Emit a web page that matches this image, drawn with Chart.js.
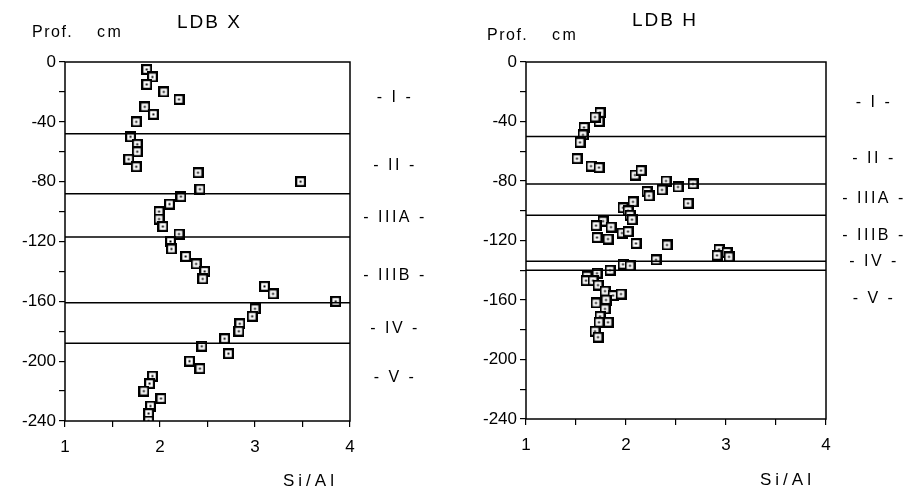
<!DOCTYPE html>
<html lang="fr">
<head>
<meta charset="UTF-8">
<title>LDB X / LDB H - Si/Al</title>
<script src="https://cdn.jsdelivr.net/npm/chart.js"></script>
<style>
  body { margin: 0; background: #fff; width: 903px; height: 487px; overflow: hidden; position: relative;
         font-family: "Liberation Sans", Arial, sans-serif; color: #000; }
  .box { position: absolute; top: 0; height: 487px; }
  .txt { position: absolute; white-space: pre; line-height: 1; }
</style>
</head>
<body>
<div class="box" style="left:0;width:450px"><canvas id="ldbX"></canvas></div>
<div class="box" style="left:450px;width:453px"><canvas id="ldbH"></canvas></div>

<div class="txt" style="left:32px;top:24px;font-size:16px;letter-spacing:1.5px">Prof.</div>
<div class="txt" style="left:97px;top:24px;font-size:16px;letter-spacing:2.5px">cm</div>
<div class="txt" style="left:177px;top:12px;font-size:19px;letter-spacing:2px">LDB X</div>
<div class="txt" style="left:283px;top:472px;font-size:17px;letter-spacing:4px">Si/Al</div>

<div class="txt" style="left:487px;top:27px;font-size:16px;letter-spacing:1.5px">Prof.</div>
<div class="txt" style="left:552px;top:27px;font-size:16px;letter-spacing:2.5px">cm</div>
<div class="txt" style="left:632px;top:10px;font-size:19px;letter-spacing:2px">LDB H</div>
<div class="txt" style="left:760px;top:471px;font-size:17px;letter-spacing:4px">Si/Al</div>

<script>
// LDB X : rapport Si/Al selon la profondeur (cm)
const ldbXSiAl = [1.86, 1.92, 1.86, 2.04, 2.20, 1.84, 1.93, 1.75, 1.69, 1.76, 1.76, 1.67, 1.75, 2.40, 3.48, 2.42,
                  2.22, 2.10, 1.99, 1.99, 2.03, 2.20, 2.11, 2.12, 2.27, 2.38, 2.47, 2.45, 3.10, 3.19, 3.85, 3.00,
                  2.97, 2.84, 2.83, 2.68, 2.44, 2.72, 2.31, 2.42, 1.92, 1.89, 1.83, 2.01, 1.90, 1.88, 1.88];
const ldbXProf = [-5, -10, -15, -20, -25, -30, -35, -40, -50, -55, -60, -65, -70, -74, -80, -85,
                  -90, -95, -100, -105, -110, -115, -120, -125, -130, -135, -140, -145, -150, -155, -160, -165,
                  -170, -175, -180, -185, -190, -195, -200, -205, -210, -215, -220, -225, -230, -235, -240];
const ldbXLimites = [-48, -88, -117, -161, -188];
const ldbXHorizons = ['- I -', '- II -', '- IIIA -', '- IIIB -', '- IV -', '- V -'];
const ldbXHorizonProf = [-24, -69, -104, -143, -178, -211];

// LDB H
const ldbHSiAl = [1.74, 1.73, 1.69, 1.58, 1.57, 1.54, 1.51, 1.65, 1.73, 2.09, 2.15, 2.40, 2.36, 2.52, 2.67, 2.21,
                  2.23, 2.62, 2.07, 1.97, 2.02, 2.04, 2.06, 1.77, 1.70, 1.85, 1.96, 2.02, 1.71, 1.82, 2.10, 2.41,
                  2.93, 3.01, 3.03, 2.91, 2.30, 1.97, 2.04, 1.84, 1.71, 1.61, 1.60, 1.67, 1.72, 1.79, 1.87, 1.95,
                  1.70, 1.80, 1.79, 1.74, 1.82, 1.73, 1.69, 1.72];
const ldbHProf = [-34, -40, -37, -44, -49, -54, -65, -70, -71, -76, -73, -80, -86, -84, -82, -87,
                  -90, -95, -94, -98, -100, -103, -106, -107, -110, -111, -115, -114, -118, -119, -122, -123,
                  -126, -128, -131, -130, -133, -136, -137, -140, -142, -144, -147, -147, -150, -154, -157, -156,
                  -162, -160, -166, -171, -175, -175, -181, -185];
const ldbHLimites = [-50, -82, -103, -134, -140];
const ldbHHorizons = ['- I -', '- II -', '- IIIA -', '- IIIB -', '- IV -', '- V -'];
const ldbHHorizonProf = [-27, -65, -92, -117, -134, -159];

const yTicks = [0, -40, -80, -120, -160, -200, -240];
const xTicks = [1, 2, 3, 4];

// petit carre avec un point au centre
function boxMark() {
  const c = document.createElement('canvas');
  c.width = 11; c.height = 11;
  const g = c.getContext('2d');
  g.fillStyle = '#fff'; g.fillRect(0, 0, 11, 11);
  g.strokeStyle = '#000'; g.lineWidth = 2.2; g.strokeRect(1.1, 1.1, 8.8, 8.8);
  g.fillStyle = '#000'; g.fillRect(4.5, 4.5, 2, 2);
  return c;
}
const mark = boxMark();

// limites d'horizons, cadre et noms des horizons
const horizonsPlugin = {
  id: 'horizons',
  afterDatasetsDraw(chart, args, opts) {
    const { ctx, chartArea: a, scales: { y } } = chart;
    ctx.save();
    ctx.strokeStyle = '#000';
    ctx.lineWidth = 1.5;
    opts.limites.forEach(v => {
      const py = y.getPixelForValue(v);
      ctx.beginPath(); ctx.moveTo(a.left, py); ctx.lineTo(a.right, py); ctx.stroke();
    });
    ctx.strokeRect(a.left, a.top, a.right - a.left, a.bottom - a.top);
    ctx.fillStyle = '#000';
    ctx.font = '16px "Liberation Sans", Arial, sans-serif';
    ctx.letterSpacing = '2.5px';
    ctx.textAlign = 'center';
    ctx.textBaseline = 'middle';
    opts.noms.forEach((n, i) => {
      ctx.fillText(n, a.right + opts.dx, y.getPixelForValue(opts.prof[i]));
    });
    ctx.restore();
  }
};

function makeChart(id, xs, ys, limites, noms, prof, pad, dx) {
  const W = pad.w, H = 487;
  return new Chart(document.getElementById(id), {
    type: 'scatter',
    data: {
      datasets: [{
        data: xs.map((x, i) => ({ x: x, y: ys[i] })),
        pointStyle: mark,
        pointRadius: 5,
        pointHoverRadius: 5
      }]
    },
    options: {
      responsive: true,
      maintainAspectRatio: false,
      animation: false,
      events: [],
      layout: { padding: { left: 0, top: pad.top, right: W - pad.right, bottom: H - pad.bottom - 34 } },
      plugins: {
        legend: { display: false },
        tooltip: { enabled: false },
        horizons: { limites: limites, noms: noms, prof: prof, dx: dx }
      },
      scales: {
        x: {
          type: 'linear', min: 1, max: 4,
          border: { display: false },
          grid: { drawOnChartArea: false, color: '#000', lineWidth: 1.2, tickLength: 6 },
          ticks: {
            stepSize: 0.5, color: '#000', padding: 10,
            font: { family: '"Liberation Sans", Arial, sans-serif', size: 17 },
            callback: v => xTicks.includes(v) ? String(v) : ''
          },
          afterFit: s => { s.height = 34; }
        },
        y: {
          type: 'linear', min: -240, max: 0,
          border: { display: false },
          grid: { drawOnChartArea: false, color: '#000', lineWidth: 1.2, tickLength: 6 },
          ticks: {
            stepSize: 20, color: '#000', padding: 3,
            font: { family: '"Liberation Sans", Arial, sans-serif', size: 17 },
            callback: v => yTicks.includes(v) ? String(v) : ''
          },
          afterFit: s => { s.width = pad.left; }
        }
      }
    },
    plugins: [horizonsPlugin]
  });
}

makeChart('ldbX', ldbXSiAl, ldbXProf, ldbXLimites, ldbXHorizons, ldbXHorizonProf,
          { w: 450, left: 65, right: 350, top: 62, bottom: 421 }, 45);
makeChart('ldbH', ldbHSiAl, ldbHProf, ldbHLimites, ldbHHorizons, ldbHHorizonProf,
          { w: 453, left: 76, right: 376, top: 62, bottom: 419 }, 48);
</script>
</body>
</html>
